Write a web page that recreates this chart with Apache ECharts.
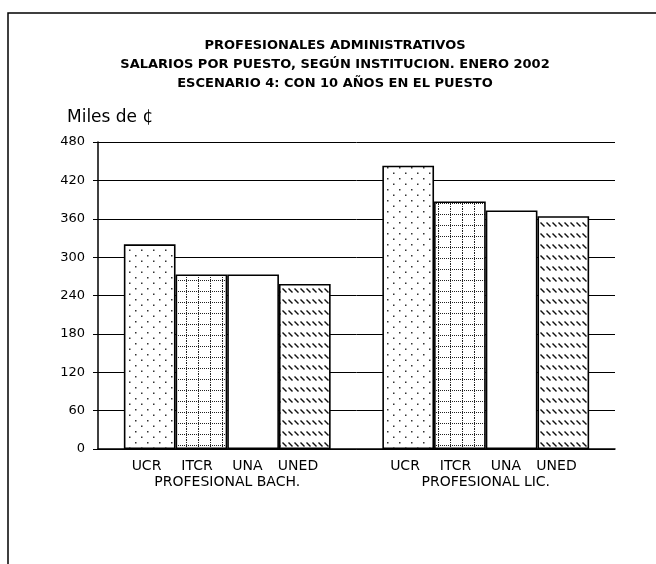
<!DOCTYPE html>
<html>
<head>
<meta charset="utf-8">
<title>Salarios por puesto</title>
<script src="https://cdn.jsdelivr.net/npm/echarts@6/dist/echarts.min.js"></script>
<style>
  html, body { margin: 0; padding: 0; background: #fff; }
  #chartData { width: 656px; height: 564px; }
</style>
</head>
<body>
<div id="chartData"></div>
<script>
// datos del grafico
var categorias = ['PROFESIONAL BACH.', 'PROFESIONAL LIC.'];
var instituciones = ['UCR', 'ITCR', 'UNA', 'UNED'];
var ucr  = [320, 443];
var itcr = [273, 387];
var una  = [273, 373];
var uned = [258, 364];
var ticksY = [0, 60, 120, 180, 240, 300, 360, 420, 480];

var FUENTE = 'DejaVu Sans, Liberation Sans, sans-serif';

// tramas de relleno (como en el grafico original)
function trama(w, h, dibujar) {
    var c = document.createElement('canvas');
    c.width = w; c.height = h;
    var ctx = c.getContext('2d');
    ctx.fillStyle = '#fff';
    ctx.fillRect(0, 0, w, h);
    dibujar(ctx);
    return { image: c, repeat: 'repeat' };
}

var puntos = trama(12, 11, function(ctx) {
    ctx.fillStyle = '#333';
    ctx.fillRect(3, 2, 1.5, 1.5);
    ctx.fillRect(9, 7.5, 1.5, 1.5);
});

var cuadros = trama(12, 11, function(ctx) {
    ctx.fillStyle = '#222';
    for (var y = 0; y < 11; y += 2) ctx.fillRect(6, y, 1, 1);
    for (var x = 0; x < 12; x += 2) ctx.fillRect(x, 5, 1, 1);
});

var rayas = trama(6, 11, function(ctx) {
    ctx.strokeStyle = '#111';
    ctx.lineWidth = 1.4;
    ctx.beginPath();
    ctx.moveTo(0.5, 2.5);
    ctx.lineTo(4.5, 6.5);
    ctx.stroke();
});

var blanco = '#ffffff';

var rellenos = [puntos, cuadros, blanco, rayas];
var valores = [ucr, itcr, una, uned];

var series = instituciones.map(function(nombre, i) {
    return {
        name: nombre,
        type: 'bar',
        data: valores[i],
        barGap: '0%',
        barCategoryGap: '20%',
        itemStyle: {
            color: rellenos[i],
            borderColor: '#000',
            borderWidth: 1.6
        }
    };
});

// primera linea: instituciones; segunda: categoria
var etiquetaX = instituciones.map(function(n) { return '{a|' + n + '}'; }).join('') + '{s| }\n{c|';

var myChart = echarts.init(document.getElementById('chartData'));

var option = {
    backgroundColor: '#fff',
    animation: false,
    title: [{
        text: 'PROFESIONALES ADMINISTRATIVOS\nSALARIOS POR PUESTO, SEGÚN INSTITUCION. ENERO 2002\nESCENARIO 4: CON 10 AÑOS EN EL PUESTO',
        left: 330,
        top: 31,
        textAlign: 'center',
        textStyle: {
            fontFamily: FUENTE,
            fontSize: 13,
            fontWeight: 'bold',
            color: '#000',
            lineHeight: 19
        }
    }, {
        text: 'Miles de ¢',
        left: 62,
        top: 104,
        textStyle: {
            fontFamily: FUENTE,
            fontSize: 17,
            fontWeight: 'normal',
            color: '#000'
        }
    }],
    graphic: [{
        type: 'rect',
        shape: { x: 8, y: 13, width: 700, height: 600 },
        style: { fill: 'none', stroke: '#000', lineWidth: 1.5 },
        silent: true
    }],
    grid: {
        left: 98,
        right: 41,
        top: 142,
        bottom: 115
    },
    xAxis: {
        type: 'category',
        data: categorias,
        axisLine: { lineStyle: { color: '#000', width: 1.5 } },
        axisTick: { show: false },
        axisLabel: {
            interval: 0,
            margin: 10,
            color: '#000',
            fontFamily: FUENTE,
            formatter: function(v) {
                return etiquetaX + v + '}';
            },
            rich: {
                a: { width: 50.5, align: 'center', fontSize: 14, fontFamily: FUENTE, color: '#000', lineHeight: 15 },
                s: { width: 10, fontSize: 14, lineHeight: 15 },
                c: { fontSize: 14, fontFamily: FUENTE, color: '#000', lineHeight: 16 }
            }
        }
    },
    yAxis: {
        type: 'value',
        min: ticksY[0],
        max: ticksY[ticksY.length - 1],
        interval: ticksY[1] - ticksY[0],
        axisLine: { show: true, lineStyle: { color: '#000', width: 1.5 } },
        axisTick: { show: true, length: 5, lineStyle: { color: '#000' } },
        axisLabel: {
            color: '#000',
            fontFamily: FUENTE,
            fontSize: 13,
            margin: 13
        },
        splitLine: { lineStyle: { color: '#000', width: 1 } }
    },
    series: series
};

myChart.setOption(option);
</script>
</body>
</html>
